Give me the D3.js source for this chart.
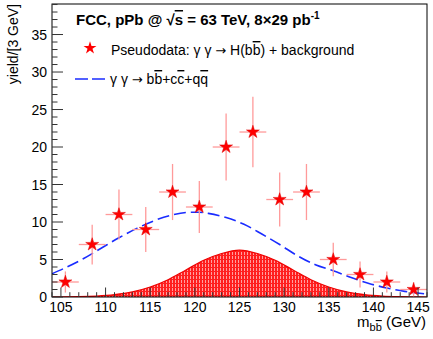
<!DOCTYPE html>
<html><head><meta charset="utf-8">
<script src="https://cdn.jsdelivr.net/npm/d3@7"></script>
<style>
html,body{margin:0;padding:0;background:#fff;}
svg{display:block;font-family:"Liberation Sans",Arial,sans-serif;}
</style></head>
<body>
<svg id="c" width="433" height="339"></svg>
<script>
// ---- data ----
const binCenters = [105.5,108.5,111.5,114.5,117.5,120.5,123.5,126.5,129.5,132.5,135.5,138.5,141.5,144.5];
const yields     = [2,7,11,9,14,12,20,22,13,14,5,3,2,1];
const yieldErr   = [1.41,2.65,3.32,3.0,3.74,3.46,4.47,4.69,3.61,3.74,2.24,1.73,1.41,1.0];
const binHalfWidth = 1.5;

const bkgMass  = [104,105.5,107.5,109.5,111.5,113.5,115.5,117.5,119.5,120.5,121.5,123.5,125.5,127.5,129.5,131.5,133.5,135.5,137.5,139.5,141.5,143.5,146];
const bkgYield = [3.1,3.9,5.1,6.5,7.9,9.15,10.2,10.95,11.3,11.3,11.15,10.6,9.7,8.4,7.0,5.5,4.3,3.5,2.6,1.8,1.2,0.75,0.4];

const sigMass  = [104,107,109,111,113,115,117,119,121,123,125,127,129,131,133,135,137,139,141,143,145,146];
const sigYield = [0.01,0.04,0.12,0.31,0.68,1.33,2.3,3.6,4.9,5.8,6.25,5.8,4.9,3.6,2.3,1.33,0.68,0.31,0.12,0.04,0.01,0.0];

const xTicks = [105,110,115,120,125,130,135,140,145];
const yTicks = [0,5,10,15,20,25,30,35];

// ---- layout ----
const L=52, R=427, T=4, B=297;
const svg = d3.select("#c");
const x = d3.scaleLinear().domain([104,146]).range([L,R]);
const y = d3.scaleLinear().domain([0,39.07]).range([B,T]);

// pattern for signal
const defs = svg.append("defs");
const pat = defs.append("pattern").attr("id","hatch").attr("patternUnits","userSpaceOnUse")
  .attr("width",3).attr("height",4);
pat.append("rect").attr("width",3).attr("height",4).attr("fill","#ff1f1f");
pat.append("rect").attr("x",1).attr("y",0).attr("width",1).attr("height",3).attr("fill","#ffa0a0");
defs.append("clipPath").attr("id","clip").append("rect")
  .attr("x",L).attr("y",T).attr("width",R-L).attr("height",B-T);

const g = svg.append("g").attr("clip-path","url(#clip)");

// signal area
const sigPts = sigMass.map((m,i)=>[m,sigYield[i]]);
g.append("path").datum(sigPts)
  .attr("d", d3.area().x(d=>x(d[0])).y0(y(0)).y1(d=>y(d[1])).curve(d3.curveMonotoneX))
  .attr("fill","url(#hatch)");
g.append("path").datum(sigPts)
  .attr("d", d3.line().x(d=>x(d[0])).y(d=>y(d[1])).curve(d3.curveMonotoneX))
  .attr("fill","none").attr("stroke","#ee0000").attr("stroke-width",1.2);

// background curve
const bkgPts = bkgMass.map((m,i)=>[m,bkgYield[i]]);
g.append("path").datum(bkgPts)
  .attr("d", d3.line().x(d=>x(d[0])).y(d=>y(d[1])).curve(d3.curveMonotoneX))
  .attr("fill","none").attr("stroke","#1a2cff").attr("stroke-width",1.6)
  .attr("stroke-dasharray","12,5");

// error bars
const eb = g.append("g").attr("stroke","#ff9a9a").attr("stroke-width",1.3);
binCenters.forEach((c,i)=>{
  eb.append("line").attr("x1",x(c-binHalfWidth)).attr("x2",x(c+binHalfWidth))
    .attr("y1",y(yields[i])).attr("y2",y(yields[i]));
  eb.append("line").attr("x1",x(c)).attr("x2",x(c))
    .attr("y1",y(yields[i]-yieldErr[i])).attr("y2",y(yields[i]+yieldErr[i]));
});
// stars
const star = d3.symbol().type(d3.symbolStar).size(52);
binCenters.forEach((c,i)=>{
  g.append("path").attr("d",star()).attr("transform",`translate(${x(c)},${y(yields[i])})`)
    .attr("fill","#ff0000").attr("stroke","#dd0000").attr("stroke-width",0.5);
});

// frame
svg.append("rect").attr("x",L).attr("y",T).attr("width",R-L).attr("height",B-T)
  .attr("fill","none").attr("stroke","#000").attr("stroke-width",1);

// ticks
const ax = svg.append("g").attr("stroke","#333").attr("stroke-width",1);
for(let v=104; v<=146; v++){
  const major = v%5===0;
  ax.append("line").attr("x1",x(v)).attr("x2",x(v)).attr("y1",B).attr("y2",B-(major?9.5:4.8));
}
for(let v=0; v<=39; v++){
  const major = v%5===0;
  ax.append("line").attr("x1",L).attr("x2",L+(major?11:5.5)).attr("y1",y(v)).attr("y2",y(v));
}
svg.append("g").selectAll("text").data(xTicks).join("text")
  .attr("x",d=>x(d)).attr("y",B+14.5).attr("text-anchor","middle")
  .attr("font-size",14).text(d=>d);
svg.append("g").selectAll("text").data(yTicks).join("text")
  .attr("x",L-5).attr("y",d=>y(d)+5).attr("text-anchor","end")
  .attr("font-size",14).text(d=>d);

// axis titles
svg.append("text").attr("transform",`translate(18,${T}) rotate(-90)`)
  .attr("text-anchor","end").attr("font-size",14).text("yield/[3 GeV]");
const xt = svg.append("text").attr("x",R-1).attr("y",327).attr("text-anchor","end").attr("font-size",15);
xt.append("tspan").text("m");
xt.append("tspan").attr("font-size",11).attr("dy",4).text("b");
xt.append("tspan").attr("font-size",11).style("text-decoration","overline").text("b");
xt.append("tspan").attr("dy",-4).text(" (GeV)");

// title
const tt = svg.append("text").attr("x",76).attr("y",25).attr("font-size",15).attr("font-weight","bold");
tt.append("tspan").text("FCC, pPb @  \u221A");
tt.append("tspan").style("text-decoration","overline").text("s");
tt.append("tspan").text(" = 63 TeV, 8\u00D729 pb");
tt.append("tspan").attr("font-size",10).attr("dy",-6).text("-1");

// legend
const arrowFont = "DejaVu Sans";
svg.append("path").attr("d",d3.symbol().type(d3.symbolStar).size(52)())
  .attr("transform","translate(90,48)").attr("fill","#ff0000");
const l1 = svg.append("text").attr("x",111).attr("y",55).attr("font-size",14);
l1.append("tspan").text("Pseudodata: \u03B3 \u03B3 ");
l1.append("tspan").attr("font-family",arrowFont).attr("font-size",13).text("\u2192");
l1.append("tspan").text(" H(b");
l1.append("tspan").style("text-decoration","overline").text("b");
l1.append("tspan").text(") + background");
svg.append("line").attr("x1",75).attr("x2",105).attr("y1",79).attr("y2",79)
  .attr("stroke","#1a2cff").attr("stroke-width",1.6).attr("stroke-dasharray","13,4");
const l2 = svg.append("text").attr("x",110).attr("y",84).attr("font-size",14);
l2.append("tspan").text("\u03B3 \u03B3 ");
l2.append("tspan").attr("font-family",arrowFont).attr("font-size",13).text("\u2192");
l2.append("tspan").text(" b");
l2.append("tspan").style("text-decoration","overline").text("b");
l2.append("tspan").text("+c");
l2.append("tspan").style("text-decoration","overline").text("c");
l2.append("tspan").text("+q");
l2.append("tspan").style("text-decoration","overline").text("q");
</script>
</body></html>
